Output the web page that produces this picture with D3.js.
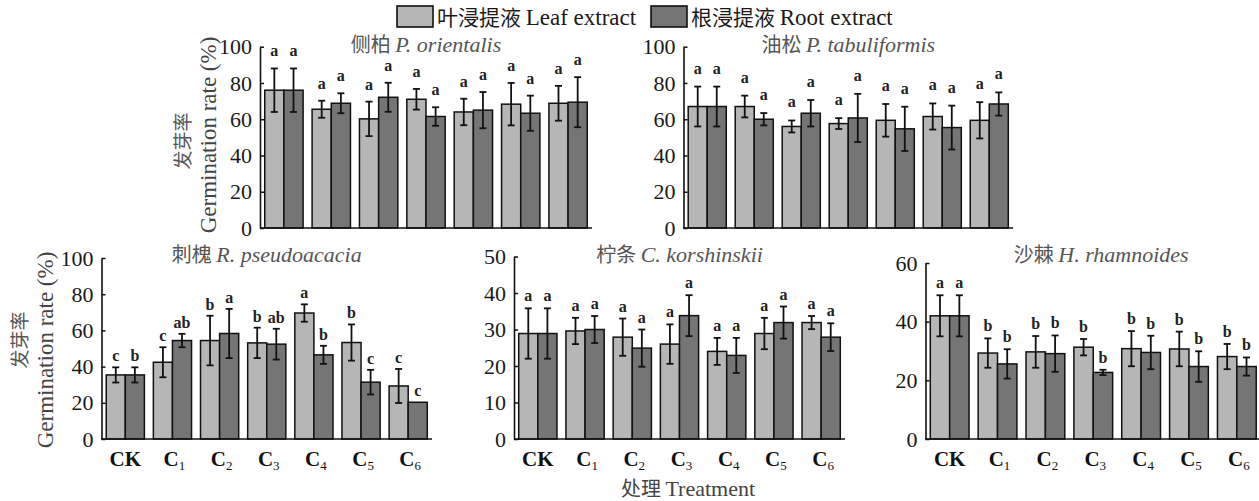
<!DOCTYPE html>
<html>
<head>
<meta charset="utf-8">
<script src="https://cdn.jsdelivr.net/npm/d3@7"></script>
<style>
  body { margin: 0; background: #fff; }
  text { font-family: "Liberation Serif", "Times New Roman", serif; }
  .cjk { font-family: "Noto Sans CJK SC", sans-serif; }
</style>
</head>
<body>
<svg id="chart" width="1259" height="501"></svg>
<script>
// Treatments (CK = control, C1..C6 = extract concentrations)
const treatments = ["CK", "C1", "C2", "C3", "C4", "C5", "C6"];
const seriesNames = ["叶浸提液 Leaf extract", "根浸提液 Root extract"];

const speciesCn = ["侧柏", "油松", "刺槐", "柠条", "沙棘"];
const speciesLatin = ["P. orientalis", "P. tabuliformis", "R. pseudoacacia", "C. korshinskii", "H. rhamnoides"];

const yMax = [100, 100, 100, 50, 60];
const yTicks = [
  [0, 20, 40, 60, 80, 100],
  [0, 20, 40, 60, 80, 100],
  [0, 20, 40, 60, 80, 100],
  [0, 10, 20, 30, 40, 50],
  [0, 20, 40, 60]
];

// Germination rate (%), mean and standard deviation
const orientalisLeaf = [76, 65.5, 60.2, 71, 64, 68.3, 68.8];
const orientalisLeafSd = [12, 4.7, 9.5, 5.7, 7.3, 11.7, 9.6];
const orientalisRoot = [76, 68.8, 72.1, 61.5, 65, 63.3, 69.4];
const orientalisRootSd = [12, 5.5, 8, 5.1, 10, 9.7, 13.8];
const orientalisLeafSig = ["a", "a", "a", "a", "a", "a", "a"];
const orientalisRootSig = ["a", "a", "a", "a", "a", "a", "a"];

const tabuliformisLeaf = [67, 67, 56, 57.6, 59.4, 61.5, 59.4];
const tabuliformisLeafSd = [11, 6, 3.3, 3, 9, 7.2, 10];
const tabuliformisRoot = [67, 60, 63.3, 60.7, 54.7, 55.4, 68.4];
const tabuliformisRootSd = [11, 3.4, 7.3, 13.3, 12.2, 12.1, 6.4];
const tabuliformisLeafSig = ["a", "a", "a", "a", "a", "a", "a"];
const tabuliformisRootSig = ["a", "a", "a", "a", "a", "a", "a"];

const pseudoacaciaLeaf = [35.4, 42.4, 54.4, 53.1, 69.6, 53.3, 29.3];
const pseudoacaciaLeafSd = [4.2, 8.3, 13.7, 8.4, 4.8, 10, 9.4];
const pseudoacaciaRoot = [35.4, 54.4, 58.3, 52.4, 46.5, 31.4, 20.3];
const pseudoacaciaRootSd = [4.2, 3.7, 13.6, 8.5, 5, 6.8, 0];
const pseudoacaciaLeafSig = ["c", "c", "b", "b", "a", "b", "c"];
const pseudoacaciaRootSig = ["b", "ab", "a", "ab", "b", "c", "c"];

const korshinskiiLeaf = [28.9, 29.6, 27.9, 26, 24, 28.9, 31.9];
const korshinskiiLeafSd = [6.9, 3.6, 5.1, 5.4, 3.7, 4.3, 1.8];
const korshinskiiRoot = [28.9, 30, 24.9, 33.8, 22.9, 31.9, 27.9];
const korshinskiiRootSd = [6.9, 3.7, 5.1, 5.6, 4.8, 4.4, 3.8];
const korshinskiiLeafSig = ["a", "a", "a", "a", "a", "a", "a"];
const korshinskiiRootSig = ["a", "a", "a", "a", "a", "a", "a"];

const rhamnoidesLeaf = [42, 29.3, 29.7, 31.3, 30.8, 30.7, 28.1];
const rhamnoidesLeafSd = [7, 5, 5.4, 2.8, 6, 5.9, 4.3];
const rhamnoidesRoot = [42, 25.6, 29.1, 22.7, 29.5, 24.7, 24.7];
const rhamnoidesRootSd = [7, 5, 6.2, 0.9, 5.7, 5.2, 3.1];
const rhamnoidesLeafSig = ["a", "b", "b", "b", "b", "b", "b"];
const rhamnoidesRootSig = ["a", "b", "b", "b", "b", "b", "b"];

const leafMeans = [orientalisLeaf, tabuliformisLeaf, pseudoacaciaLeaf, korshinskiiLeaf, rhamnoidesLeaf];
const leafSds = [orientalisLeafSd, tabuliformisLeafSd, pseudoacaciaLeafSd, korshinskiiLeafSd, rhamnoidesLeafSd];
const rootMeans = [orientalisRoot, tabuliformisRoot, pseudoacaciaRoot, korshinskiiRoot, rhamnoidesRoot];
const rootSds = [orientalisRootSd, tabuliformisRootSd, pseudoacaciaRootSd, korshinskiiRootSd, rhamnoidesRootSd];
const leafSigs = [orientalisLeafSig, tabuliformisLeafSig, pseudoacaciaLeafSig, korshinskiiLeafSig, rhamnoidesLeafSig];
const rootSigs = [orientalisRootSig, tabuliformisRootSig, pseudoacaciaRootSig, korshinskiiRootSig, rhamnoidesRootSig];

// Panel frames on the page
const frames = [
  { x0: 260,   x1: 592,  yTop: 46.7, yBot: 228, xLabels: false, sigGap: 12, yLabel: { cnX: 183, enX: 208, cnY: 141, enY: 135 } },
  { x0: 683.5, x1: 1013, yTop: 46.7, yBot: 228, xLabels: false, sigGap: 13 },
  { x0: 101.5, x1: 432,  yTop: 258,  yBot: 439, xLabels: true,  sigGap: 6,  yLabel: { cnX: 20, enX: 45, cnY: 340, enY: 350 } },
  { x0: 514,   x1: 845,  yTop: 256.5, yBot: 439, xLabels: true, sigGap: 7 },
  { x0: 925.5, x1: 1261, yTop: 263,  yBot: 439, xLabels: true,  sigGap: 7 }
];
const titleY = [52, 52, 262, 262, 262];

const leafFill = "#b6b6b6";
const rootFill = "#757575";

const svg = d3.select("#chart");

frames.forEach((f, p) => {
  const g = svg.append("g");
  const x = d3.scaleBand().domain(treatments).range([f.x0, f.x1]).paddingInner(0.19).paddingOuter(0.1);
  const xs = d3.scaleBand().domain([0, 1]).range([0, x.bandwidth()]);
  const y = d3.scaleLinear().domain([0, yMax[p]]).range([f.yBot, f.yTop]);

  const rows = treatments.map((t, i) => [
    { t, s: 0, v: leafMeans[p][i], e: leafSds[p][i], sig: leafSigs[p][i] },
    { t, s: 1, v: rootMeans[p][i], e: rootSds[p][i], sig: rootSigs[p][i] }
  ]).flat();

  // bars
  g.selectAll("rect.bar").data(rows).join("rect")
    .attr("class", "bar")
    .attr("x", d => x(d.t) + xs(d.s))
    .attr("width", xs.bandwidth())
    .attr("y", d => y(d.v))
    .attr("height", d => y(0) - y(d.v))
    .attr("fill", d => d.s === 0 ? leafFill : rootFill)
    .attr("stroke", "#111")
    .attr("stroke-width", 1.5);

  // error bars
  const eb = g.selectAll("g.err").data(rows.filter(d => d.e > 0)).join("g").attr("class", "err")
    .attr("stroke", "#111").attr("stroke-width", 1.8);
  const cx = d => x(d.t) + xs(d.s) + xs.bandwidth() / 2;
  eb.append("line").attr("x1", cx).attr("x2", cx).attr("y1", d => y(d.v + d.e)).attr("y2", d => y(d.v - d.e));
  eb.append("line").attr("x1", d => cx(d) - 3.5).attr("x2", d => cx(d) + 3.5).attr("y1", d => y(d.v + d.e)).attr("y2", d => y(d.v + d.e));
  eb.append("line").attr("x1", d => cx(d) - 3.5).attr("x2", d => cx(d) + 3.5).attr("y1", d => y(d.v - d.e)).attr("y2", d => y(d.v - d.e));

  // significance letters
  g.selectAll("text.sig").data(rows).join("text")
    .attr("class", "sig")
    .attr("x", cx)
    .attr("y", d => y(d.v + d.e) - f.sigGap)
    .attr("text-anchor", "middle")
    .attr("font-size", 16)
    .attr("font-weight", "bold")
    .attr("fill", "#222")
    .text(d => d.sig);

  // y axis
  const ya = g.append("g").attr("transform", `translate(${f.x0},0)`)
    .call(d3.axisLeft(y).tickValues(yTicks[p]).tickSizeInner(-4).tickSizeOuter(0).tickPadding(8));
  ya.select(".domain").attr("stroke", "#111").attr("stroke-width", 1.6);
  ya.selectAll(".tick line").attr("stroke", "#111").attr("stroke-width", 1.5);
  ya.selectAll(".tick text").attr("font-size", 22).attr("fill", "#1a1a1a")
    .attr("font-family", "Liberation Serif, serif");

  // x axis baseline
  g.append("line").attr("x1", f.x0).attr("x2", f.x1).attr("y1", y(0)).attr("y2", y(0))
    .attr("stroke", "#111").attr("stroke-width", 1.6);

  if (f.xLabels) {
    const lab = g.selectAll("text.xl").data(treatments).join("text")
      .attr("class", "xl")
      .attr("x", d => x(d) + x.bandwidth() / 2 + (d === "CK" ? 0 : 2))
      .attr("y", f.yBot + 27)
      .attr("text-anchor", "middle")
      .attr("font-size", 21)
      .attr("font-weight", "bold")
      .attr("fill", "#111");
    lab.each(function (d) {
      const t = d3.select(this);
      if (d === "CK") { t.text("CK"); return; }
      t.append("tspan").text(d[0]);
      t.append("tspan").attr("font-size", 13).attr("font-weight", "normal").attr("dy", 4).text(d.slice(1));
    });
  }

  // panel title
  const tt = g.append("text").attr("x", (f.x0 + f.x1) / 2 + (p === 4 ? 8 : 0)).attr("y", titleY[p])
    .attr("text-anchor", "middle").attr("font-size", 22).attr("fill", "#555");
  tt.append("tspan").attr("class", "cjk").attr("font-size", 20).text(speciesCn[p] + " ");
  tt.append("tspan").attr("font-style", "italic").text(speciesLatin[p]);

  // y axis title
  if (f.yLabel) {
    g.append("text").attr("class", "cjk")
      .attr("transform", `translate(${f.yLabel.cnX},${f.yLabel.cnY}) rotate(-90)`)
      .attr("text-anchor", "middle").attr("dy", "0.35em")
      .attr("font-size", 19).attr("fill", "#555").text("发芽率");
    g.append("text")
      .attr("transform", `translate(${f.yLabel.enX},${f.yLabel.enY}) rotate(-90)`)
      .attr("text-anchor", "middle").attr("dy", "0.35em")
      .attr("font-size", 23).attr("fill", "#444").text("Germination rate (%)");
  }
});

// shared x title
const xt = svg.append("text").attr("x", 688).attr("y", 496).attr("text-anchor", "middle")
  .attr("font-size", 22).attr("fill", "#444");
xt.append("tspan").attr("class", "cjk").attr("font-size", 20).text("处理 ");
xt.append("tspan").text("Treatment");

// legend
const legend = svg.append("g");
const legendX = [397, 651];
seriesNames.forEach((name, i) => {
  legend.append("rect").attr("x", legendX[i]).attr("y", 6).attr("width", 36).attr("height", 21)
    .attr("fill", i === 0 ? leafFill : rootFill).attr("stroke", "#111").attr("stroke-width", 1.6);
  const [cn, ...en] = name.split(" ");
  const t = legend.append("text").attr("x", legendX[i] + 40).attr("y", 25)
    .attr("font-size", 23).attr("fill", "#1a1a1a");
  t.append("tspan").attr("class", "cjk").attr("font-size", 21).text(cn + " ");
  t.append("tspan").text(en.join(" "));
});
</script>
</body>
</html>
